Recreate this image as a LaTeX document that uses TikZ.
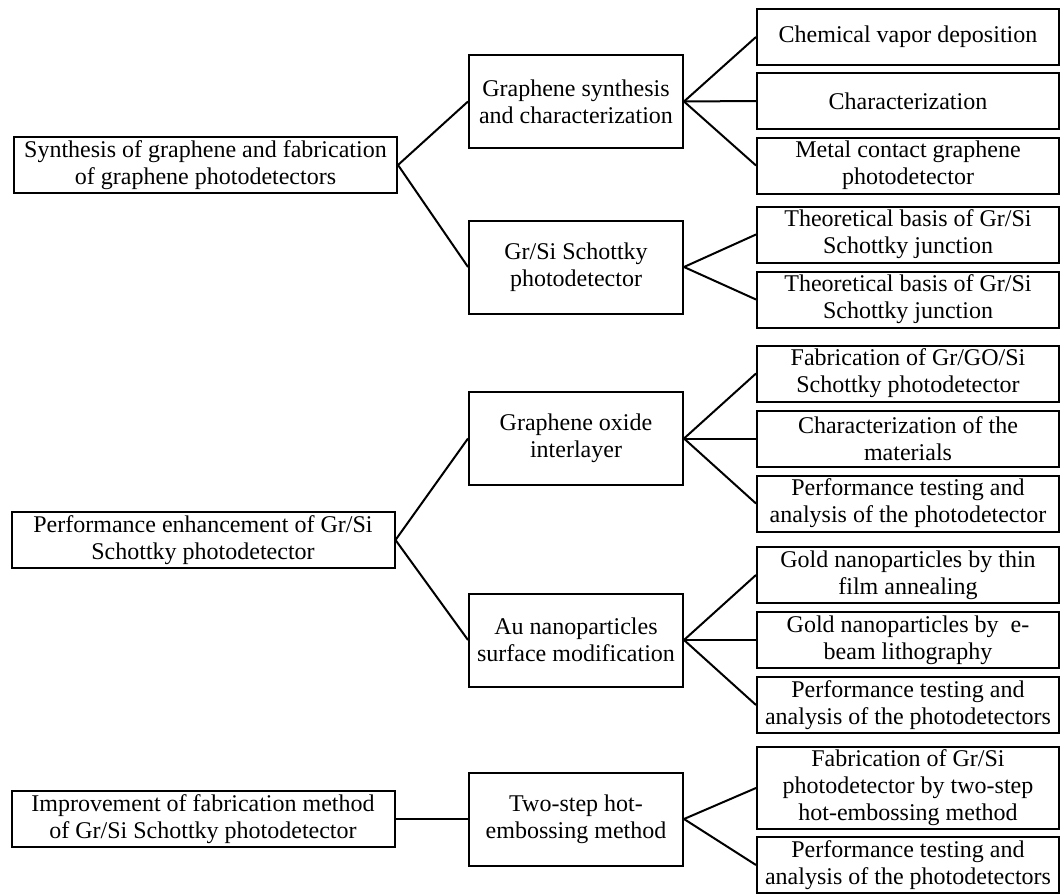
\documentclass[tikz,border=0pt]{standalone}
\usepackage{fontspec}
\setmainfont{Liberation Serif}
\usepackage{tikz}
\usetikzlibrary{positioning}

\begin{document}
\begin{tikzpicture}[
  x=0.5pt, y=-0.5pt,
  topicnode/.style={
    draw=black, line width=1pt, fill=white,
    minimum width=191.5pt, minimum height=28pt, inner sep=0pt,
    font=\fontsize{12pt}{13.5pt}\selectfont, align=center
  },
  methodnode/.style={topicnode, minimum width=107pt, minimum height=46.5pt},
  tasknode/.style={topicnode, minimum width=151pt},
  link/.style={line width=1pt, black}
]
\useasboundingbox (0,0) rectangle (1061,894);

% ---- Topics ----
\node[topicnode] (synth)   at (205.5,165) {Synthesis of graphene and fabrication\\of graphene photodetectors};
\node[topicnode] (enhance) at (203,540)   {Performance enhancement of Gr/Si\\Schottky photodetector};
\node[topicnode] (improve) at (203,819)   {Improvement of fabrication method\\of Gr/Si Schottky photodetector};

% ---- Methods ----
\node[methodnode] (grsyn)  at (576,101.5) {Graphene synthesis\\and characterization};
\node[methodnode] (grsi)   at (576,267)   {Gr/Si Schottky\\photodetector};
\node[methodnode] (goint)  at (576,438.5) {Graphene oxide\\interlayer};
\node[methodnode] (aunp)   at (576,640)   {Au nanoparticles\\surface modification};
\node[methodnode] (hotemb) at (576,819)   {Two-step hot-\\embossing method};

% ---- Tasks ----
\node[tasknode] (cvd)     at (908,37)    {Chemical vapor deposition};
\node[tasknode] (charac)  at (908,101)   {Characterization};
\node[tasknode] (metal)   at (908,165.5) {Metal contact graphene\\photodetector};
\node[tasknode] (theoa)   at (908,234.5) {Theoretical basis of Gr/Si\\Schottky junction};
\node[tasknode] (theob)   at (908,299.5) {Theoretical basis of Gr/Si\\Schottky junction};
\node[tasknode] (fabgo)   at (908,373.5) {Fabrication of Gr/GO/Si\\Schottky photodetector};
\node[tasknode] (charmat) at (908,438.5) {Characterization of the\\materials};
\node[tasknode] (perfgo)  at (908,503.5) {Performance testing and\\analysis of the photodetector};
\node[tasknode] (goldtf)  at (908,575)   {Gold nanoparticles by thin\\film annealing};
\node[tasknode] (goldeb)  at (908,640)   {Gold nanoparticles by \ e-\\beam lithography};
\node[tasknode] (perfau)  at (908,705)   {Performance testing and\\analysis of the photodetectors};
\node[tasknode, minimum height=41pt] (fabhot) at (908,788) {Fabrication of Gr/Si\\photodetector by two-step\\hot-embossing method};
\node[tasknode] (perfhot) at (908,865)   {Performance testing and\\analysis of the photodetectors};

% ---- Links ----
\draw[link] (synth.east) -- (grsyn.west);
\draw[link] (synth.east) -- (grsi.west);
\draw[link] (enhance.east) -- (goint.west);
\draw[link] (enhance.east) -- (aunp.west);
\draw[link] (improve.east) -- (hotemb.west);

\draw[link] (grsyn.east) -- (cvd.west);
\draw[link] (grsyn.east) -- (charac.west);
\draw[link] (grsyn.east) -- (metal.west);
\draw[link] (grsi.east) -- (theoa.west);
\draw[link] (grsi.east) -- (theob.west);
\draw[link] (goint.east) -- (fabgo.west);
\draw[link] (goint.east) -- (charmat.west);
\draw[link] (goint.east) -- (perfgo.west);
\draw[link] (aunp.east) -- (goldtf.west);
\draw[link] (aunp.east) -- (goldeb.west);
\draw[link] (aunp.east) -- (perfau.west);
\draw[link] (hotemb.east) -- (fabhot.west);
\draw[link] (hotemb.east) -- (perfhot.west);

\end{tikzpicture}
\end{document}
